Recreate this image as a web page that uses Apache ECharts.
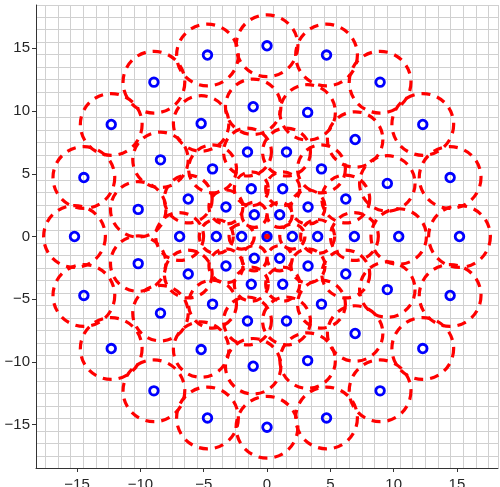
<!DOCTYPE html>
<html>
<head>
<meta charset="utf-8">
<script src="https://cdn.jsdelivr.net/npm/echarts@6/dist/echarts.min.js"></script>
<style>
html,body{margin:0;padding:0;background:#fff;}
#chart{width:500px;height:487px;}
</style>
</head>
<body>
<div id="chart"></div>
<script>
// Centre points (x, y)
const pointX = [0,
  2, 1, -1, -2, -1, 1,
  4, 3.24, 1.24, -1.24, -3.24, -4, -3.24, -1.24, 1.24, 3.24,
  6.9, 6.22, 4.30, 1.54, -1.54, -4.30, -6.22, -6.9, -6.22, -4.30, -1.54, 1.54, 4.30, 6.22,
  10.4, 9.50, 6.96, 3.21, -1.09, -5.2, -8.41, -10.17, -10.17, -8.41, -5.2, -1.09, 3.21, 6.96, 9.50,
  15.2, 14.46, 12.30, 8.93, 4.70, 0, -4.70, -8.93, -12.30, -14.46, -15.2, -14.46, -12.30, -8.93, -4.70, 0, 4.70, 8.93, 12.30, 14.46];
const pointY = [0,
  0, 1.73, 1.73, 0, -1.73, -1.73,
  0, 2.35, 3.80, 3.80, 2.35, 0, -2.35, -3.80, -3.80, -2.35,
  0, 2.99, 5.39, 6.73, 6.73, 5.39, 2.99, 0, -2.99, -5.39, -6.73, -6.73, -5.39, -2.99,
  0, 4.23, 7.73, 9.89, 10.34, 9.01, 6.11, 2.16, -2.16, -6.11, -9.01, -10.34, -9.89, -7.73, -4.23,
  0, 4.70, 8.93, 12.30, 14.46, 15.2, 14.46, 12.30, 8.93, 4.70, 0, -4.70, -8.93, -12.30, -14.46, -15.2, -14.46, -12.30, -8.93, -4.70];
// Radius of the dashed circle around each point (data units)
const circleR = [0.12,
  1.0, 1.0, 1.0, 1.0, 1.0, 1.0,
  1.35, 1.35, 1.35, 1.35, 1.35, 1.35, 1.35, 1.35, 1.35, 1.35,
  1.9, 1.9, 1.9, 1.9, 1.9, 1.9, 1.9, 1.9, 1.9, 1.9, 1.9, 1.9, 1.9, 1.9,
  2.2, 2.2, 2.2, 2.2, 2.2, 2.2, 2.2, 2.2, 2.2, 2.2, 2.2, 2.2, 2.2, 2.2, 2.2,
  2.45, 2.45, 2.45, 2.45, 2.45, 2.45, 2.45, 2.45, 2.45, 2.45, 2.45, 2.45, 2.45, 2.45, 2.45, 2.45, 2.45, 2.45, 2.45, 2.45];
const tickValues = [-15, -10, -5, 0, 5, 10, 15];
const xRange = [-18.24, 18.24];
const yRange = [-18.45, 18.45];
const gridLinesX = [-17.5,-16.5,-15.5,-14.5,-13.5,-12.5,-11.5,-10.5,-9.5,-8.5,-7.5,-6.5,-5.5,-4.5,-3.5,-2.5,-1.5,-0.5,0.5,1.5,2.5,3.5,4.5,5.5,6.5,7.5,8.5,9.5,10.5,11.5,12.5,13.5,14.5,15.5,16.5,17.5,18.24];
const gridLinesY = [-17.5,-16.5,-15.5,-14.5,-13.5,-12.5,-11.5,-10.5,-9.5,-8.5,-7.5,-6.5,-5.5,-4.5,-3.5,-2.5,-1.5,-0.5,0.5,1.5,2.5,3.5,4.5,5.5,6.5,7.5,8.5,9.5,10.5,11.5,12.5,13.5,14.5,15.5,16.5,17.5,18.45];

const circleData = pointX.map((x, i) => [x, pointY[i], circleR[i]]);
const pointData = pointX.map((x, i) => [x, pointY[i]]);

const fmt = v => (v < 0 ? '\u2212' + Math.abs(v) : String(v));
const labelFont = {fontFamily: 'Liberation Sans, Arial, sans-serif', fontSize: 15, color: '#262626'};

const chart = echarts.init(document.getElementById('chart'), null, {renderer: 'canvas'});
chart.setOption({
  animation: false,
  grid: {left: 36, right: 2, top: 5, bottom: 19, containLabel: false, outerBoundsMode: 'none'},
  xAxis: [
    {
      type: 'value', min: xRange[0], max: xRange[1], position: 'bottom',
      axisLine: {show: false, onZero: false},
      axisTick: {show: false, customValues: gridLinesX},
      axisLabel: {show: false},
      splitLine: {show: true, lineStyle: {color: '#d0d0d0', width: 1}}
    },
    {
      type: 'value', min: xRange[0], max: xRange[1], position: 'bottom',
      axisLine: {show: true, onZero: false, lineStyle: {color: '#333', width: 1}},
      axisTick: {show: true, inside: false, length: 4, customValues: tickValues, lineStyle: {color: '#333'}},
      axisLabel: Object.assign({show: true, margin: 9, customValues: tickValues, formatter: fmt}, labelFont),
      splitLine: {show: false}
    }
  ],
  yAxis: [
    {
      type: 'value', min: yRange[0], max: yRange[1], position: 'left',
      axisLine: {show: false, onZero: false},
      axisTick: {show: false, customValues: gridLinesY},
      axisLabel: {show: false},
      splitLine: {show: true, lineStyle: {color: '#d0d0d0', width: 1}}
    },
    {
      type: 'value', min: yRange[0], max: yRange[1], position: 'left',
      axisLine: {show: true, onZero: false, lineStyle: {color: '#333', width: 1}},
      axisTick: {show: true, inside: false, length: 4, customValues: tickValues, lineStyle: {color: '#333'}},
      axisLabel: Object.assign({show: true, margin: 6, customValues: tickValues, formatter: fmt}, labelFont),
      splitLine: {show: false}
    }
  ],
  series: [
    {
      type: 'custom',
      xAxisIndex: 0, yAxisIndex: 0,
      silent: true,
      data: circleData,
      encode: {x: 0, y: 1},
      renderItem: function (params, api) {
        const c = api.coord([api.value(0), api.value(1)]);
        const s = api.size([api.value(2), api.value(2)]);
        const r = (s[0] + s[1]) / 2;
        return {
          type: 'circle',
          shape: {cx: c[0], cy: c[1], r: r},
          style: {fill: 'none', stroke: '#ff0000', lineWidth: 3.2, lineDash: [9, 7], lineCap: 'butt'}
        };
      },
      z: 2
    },
    {
      type: 'scatter',
      xAxisIndex: 0, yAxisIndex: 0,
      silent: true,
      data: pointData,
      symbol: 'circle',
      symbolSize: 8.6,
      itemStyle: {color: 'rgba(0,0,0,0)', borderColor: '#0000ff', borderWidth: 2.8, opacity: 1},
      z: 3
    }
  ]
});
</script>
</body>
</html>
